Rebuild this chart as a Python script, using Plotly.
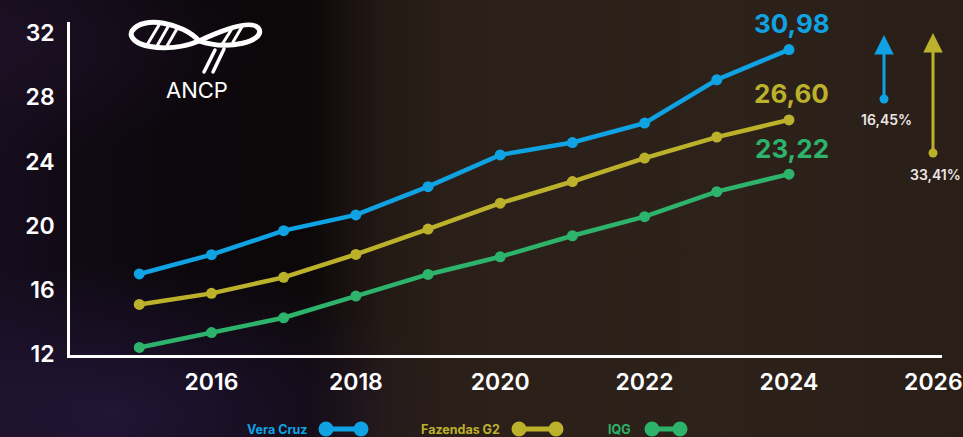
import base64
import plotly.graph_objects as go

# ---------------- data ----------------
years = [2015, 2016, 2017, 2018, 2019, 2020, 2021, 2022, 2023, 2024]
vera_cruz = [17.00, 18.20, 19.70, 20.68, 22.44, 24.42, 25.19, 26.40, 29.10, 30.98]
fazendas_g2 = [15.10, 15.79, 16.79, 18.22, 19.80, 21.41, 22.76, 24.22, 25.53, 26.60]
iqg = [12.42, 13.35, 14.27, 15.62, 16.97, 18.07, 19.38, 20.57, 22.13, 23.22]
series_names = ["Vera Cruz", "Fazendas G2", "IQG"]
x_ticks = [2016, 2018, 2020, 2022, 2024, 2026]
y_ticks = [12, 16, 20, 24, 28, 32]
gain_labels = ["16,45%", "33,41%"]

# ---------------- style ----------------
W, H = 963, 437
ML, MR, MT, MB = 70, 21, 22, 82
PW, PH = W - ML - MR, H - MT - MB
BLUE, YELLOW, GREEN = "#0fa3e3", "#bcb12b", "#2db36b"
colors = [BLUE, YELLOW, GREEN]
FONT = "Inter"


def px(xp):
    return (xp - ML) / PW


def py(yp):
    return (H - MB - yp) / PH


def b64svg(svg):
    return "data:image/svg+xml;base64," + base64.b64encode(svg.encode()).decode()


bg_svg = f"""<svg xmlns='http://www.w3.org/2000/svg' width='{W}' height='{H}' viewBox='0 0 {W} {H}' preserveAspectRatio='none'>
<defs>
<linearGradient id='g' x1='0' y1='0' x2='1' y2='0'>
<stop offset='0' stop-color='#160d1d'/>
<stop offset='0.08' stop-color='#100a14'/>
<stop offset='0.2' stop-color='#0b070b'/>
<stop offset='0.32' stop-color='#0c0809'/>
<stop offset='0.4' stop-color='#241a15'/>
<stop offset='0.48' stop-color='#2b2019'/>
<stop offset='0.75' stop-color='#2d221a'/>
<stop offset='1' stop-color='#2a1f18'/>
</linearGradient>
<radialGradient id='p' cx='0.12' cy='0.95' r='0.35'>
<stop offset='0' stop-color='#2a1a45' stop-opacity='0.7'/>
<stop offset='1' stop-color='#2a1a45' stop-opacity='0'/>
</radialGradient>
<radialGradient id='q' cx='0.02' cy='0.1' r='0.25'>
<stop offset='0' stop-color='#22122a' stop-opacity='0.6'/>
<stop offset='1' stop-color='#22122a' stop-opacity='0'/>
</radialGradient>
</defs>
<rect width='{W}' height='{H}' fill='url(#g)'/>
<rect width='{W}' height='{H}' fill='url(#p)'/>
<rect width='{W}' height='{H}' fill='url(#q)'/>
</svg>"""

logo_svg = """<svg xmlns='http://www.w3.org/2000/svg' width='140' height='62' viewBox='0 0 140 62'>
<g fill='none' stroke='white' stroke-linecap='round' stroke-linejoin='round'>
<path d='M 74 26 C 58 8, 18 0, 7 16 C 0 30, 40 40, 74 26 C 100 14, 128 4, 134 14 C 140 26, 104 36, 74 26 Z' stroke-width='5'/>
<line x1='22' y1='30' x2='34' y2='10' stroke-width='3'/>
<line x1='32' y1='31' x2='44' y2='10' stroke-width='3'/>
<line x1='42' y1='31' x2='53' y2='12' stroke-width='3'/>
<line x1='98' y1='28' x2='108' y2='12' stroke-width='3'/>
<line x1='108' y1='27' x2='118' y2='10' stroke-width='3'/>
<line x1='90' y1='35' x2='79' y2='57' stroke-width='3.5'/>
<line x1='99' y1='34' x2='88' y2='57' stroke-width='3.5'/>
</g>
</svg>"""

fig = go.Figure()
for name, vals, col in zip(series_names, [vera_cruz, fazendas_g2, iqg], colors):
    fig.add_trace(go.Scatter(
        x=years, y=vals, name=name, mode="lines+markers",
        line=dict(color=col, width=4.5),
        marker=dict(color=col, size=11),
        showlegend=False, cliponaxis=False,
    ))

annotations = []
# end value labels
for vals, col in zip([vera_cruz, fazendas_g2, iqg], colors):
    annotations.append(dict(
        x=years[-1], y=vals[-1], xref="x", yref="y", xanchor="center", yanchor="middle",
        text=f"{vals[-1]:.2f}".replace(".", ","), showarrow=False,
        yshift=26, xshift=3, font=dict(family=FONT, size=26, color=col, weight=700),
    ))

# custom legend (text then line-dot symbol)
legend_items = [(309, 326, 361), (502, 519, 556), (633, 652, 680)]
shapes = []
LY = 429
for (tx, d0, d1), name, col in zip(legend_items, series_names, colors):
    annotations.append(dict(
        x=px(tx), y=py(LY), xref="paper", yref="paper", xanchor="right", yanchor="middle",
        text=name, showarrow=False, font=dict(family=FONT, size=12.5, color=col, weight=700),
    ))
    shapes.append(dict(type="line", xref="paper", yref="paper", x0=px(d0), x1=px(d1),
                       y0=py(LY), y1=py(LY), line=dict(color=col, width=5)))
    for d in (d0, d1):
        shapes.append(dict(type="circle", xref="paper", yref="paper",
                           xsizemode="pixel", ysizemode="pixel",
                           xanchor=px(d), yanchor=py(LY), x0=-7.5, x1=7.5, y0=-7.5, y1=7.5,
                           fillcolor=col, line=dict(width=0)))

# gain arrows
arrows = [(884, 99, 35, BLUE, gain_labels[0], 119), (933, 153, 33, YELLOW, gain_labels[1], 174)]
for ax_, base, tip, col, lab, ly in arrows:
    annotations.append(dict(
        x=px(ax_), y=py(tip), xref="paper", yref="paper", ax=0, ay=base - tip,
        text="", showarrow=True, arrowhead=2, arrowsize=1.3, arrowwidth=3, arrowcolor=col,
        standoff=0, startstandoff=0,
    ))
    shapes.append(dict(type="circle", xref="paper", yref="paper",
                       xsizemode="pixel", ysizemode="pixel",
                       xanchor=px(ax_), yanchor=py(base), x0=-4.5, x1=4.5, y0=-4.5, y1=4.5,
                       fillcolor=col, line=dict(width=0)))
    annotations.append(dict(
        x=px(ax_ + 2), y=py(ly), xref="paper", yref="paper", showarrow=False,
        xanchor="center", yanchor="middle",
        text=lab, font=dict(family=FONT, size=14, color="#ece6e4", weight=600),
    ))

# logo text
annotations.append(dict(
    x=px(197), y=py(90), xref="paper", yref="paper", showarrow=False,
    xanchor="center", yanchor="middle",
    text="ANCP", font=dict(family=FONT, size=22, color="white", weight=400),
))

images = [
    dict(source=b64svg(bg_svg), xref="paper", yref="paper", x=px(0), y=py(0),
         sizex=W / PW, sizey=H / PH, sizing="stretch", xanchor="left", yanchor="top",
         layer="below"),
    dict(source=b64svg(logo_svg), xref="paper", yref="paper", x=px(125), y=py(15),
         sizex=140 / PW, sizey=62 / PH, sizing="stretch", xanchor="left", yanchor="top",
         layer="above"),
]

fig.update_layout(
    width=W, height=H,
    margin=dict(l=ML, r=MR, t=MT, b=MB, pad=0),
    paper_bgcolor="#1a1310", plot_bgcolor="rgba(0,0,0,0)",
    font=dict(family=FONT, color="white"),
    annotations=annotations, shapes=shapes, images=images,
    xaxis=dict(range=[2014.04, 2026.12], tickvals=x_ticks, showgrid=False, zeroline=False,
               showline=True, linecolor="white", linewidth=2.5, ticks="",
               tickfont=dict(family=FONT, size=23, color="white", weight=600),
               ticklabelstandoff=5, automargin=False),
    yaxis=dict(range=[11.95, 32.7], tickvals=y_ticks, showgrid=False, zeroline=False,
               showline=True, linecolor="white", linewidth=2.5, ticks="",
               tickfont=dict(family=FONT, size=23, color="white", weight=600),
               ticklabelstandoff=8, automargin=False),
    showlegend=False,
)

fig.write_html(
    "out.html",
    config={"displayModeBar": False},
    post_script="document.body.style.margin='0';document.body.style.background='#1a1310';",
)
